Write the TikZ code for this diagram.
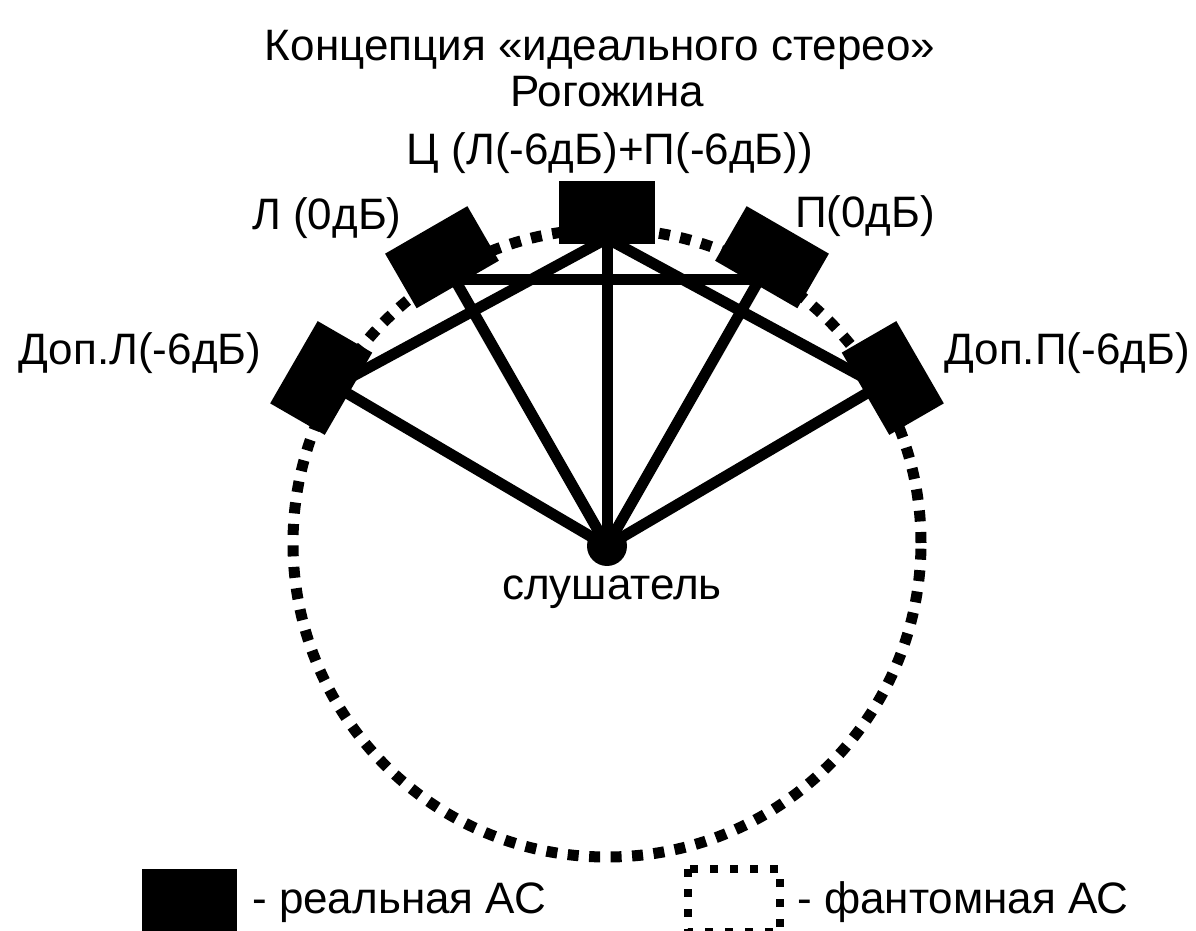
\documentclass[tikz,border=0pt]{standalone}
\usepackage{fontspec}
\setmainfont{Liberation Sans}
\usetikzlibrary{calc,backgrounds}
\begin{document}
\begin{tikzpicture}[x=1pt,y=1pt,
  spk/.style={fill=black, draw=none, minimum width=95pt, minimum height=63pt, inner sep=0pt, outer sep=0pt},
  conn/.style={line width=11pt, black},
  lbl/.style={font=\fontsize{44}{52}\selectfont, inner sep=0pt, anchor=base},
  lblw/.style={lbl, anchor=base west},
  phantom/.style={line width=11pt, dash pattern=on 11pt off 10.5pt}]
\useasboundingbox (-607,-388) rectangle (589,543);
\clip (-607,-388) rectangle (589,543);
% speakers
\node[spk] (C)  at (90:330)  {};
\node[spk, rotate=30]  (L)  at (120:330) {};
\node[spk, rotate=60]  (DL) at (150:330) {};
\node[spk, rotate=-30] (P)  at (60:330)  {};
\node[spk, rotate=-60] (DP) at (30:330)  {};
\coordinate (lis) at (0,-3);
\coordinate (Cs) at ($(C.south)+(0,6)$);
\begin{pgfonlayer}{background}
  \draw[phantom] (0,0) circle (314);
  \draw[conn] (Cs) -- (lis);
  \draw[conn] (Cs) -- ($(DL.center)!0.5!(DL.south)$);
  \draw[conn] (Cs) -- ($(DP.center)!0.5!(DP.south)$);
  \draw[conn] ($(L.south)!0.2!(L.center)$) -- ($(P.south)!0.2!(P.center)$);
  \draw[conn] (L.center) -- (lis);
  \draw[conn] (P.center) -- (lis);
  \draw[conn] (DL.center) -- (lis);
  \draw[conn] (DP.center) -- (lis);
\end{pgfonlayer}
\node[circle, fill=black, minimum size=40pt, inner sep=0pt] (dot) at (lis) {};
% labels
\node[lbl] (t1) at (-7,482) {Концепция «идеального стерео»};
\node[lbl] (t2) at (0,436) {Рогожина};
\node[lbl] (tC) at (3,378) {Ц (Л(-6дБ)+П(-6дБ))};
\node[lbl] (tL) at (-280,313) {Л (0дБ)};
\node[lbl] (tP) at (258,315) {П(0дБ)};
\node[lbl] (tDL) at (-467,178) {Доп.Л(-6дБ)};
\node[lbl] (tDP) at (460,178) {Доп.П(-6дБ)};
\node[lbl] (tlis) at (5,-57) {слушатель};
% legend
\node[spk] (legR) at (-417.5,-357.5) {};
\node[lblw] (legRt) at (-355,-370) {- реальная АС};
\draw[line width=8pt, dash pattern=on 8pt off 12pt] (81,-326) rectangle (173,-389);
\coordinate (legF) at (127,-357);
\node[lblw] (legFt) at (190,-370) {- фантомная АС};
\end{tikzpicture}
\end{document}
